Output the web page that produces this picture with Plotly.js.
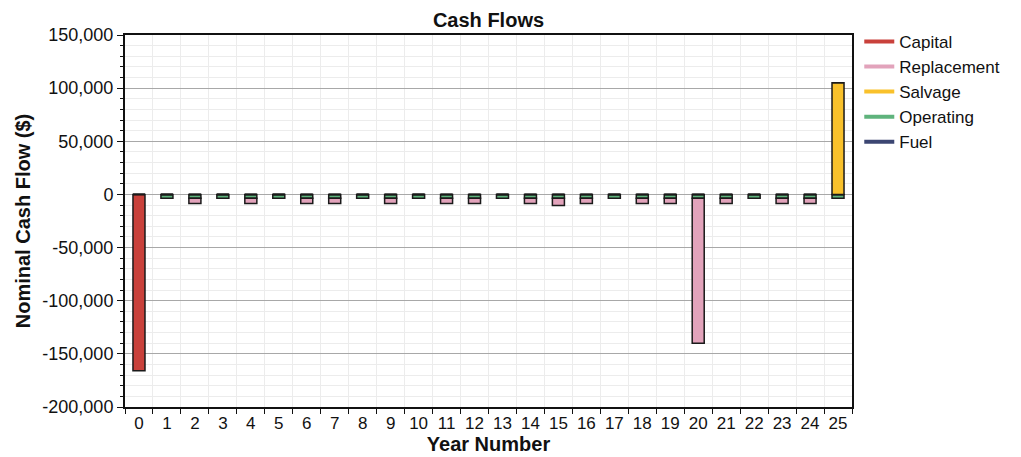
<!DOCTYPE html>
<html>
<head>
<meta charset="utf-8">
<script src="https://cdn.plot.ly/plotly-3.0.1.min.js"></script>
<style>html,body{margin:0;padding:0;background:#fff;}#chart{width:1021px;height:457px;}</style>
</head>
<body>
<div id="chart"></div>
<script>
const years = ['0','1','2','3','4','5','6','7','8','9','10','11','12','13','14','15','16','17','18','19','20','21','22','23','24','25'];
const capital =     [-166000,0,0,0,0,0,0,0,0,0,0,0,0,0,0,0,0,0,0,0,0,0,0,0,0,0];
const replacement = [0,0,-5000,0,-5000,0,-5000,-5000,0,-5000,0,-5000,-5000,0,-5000,-7000,-5000,0,-5000,-5000,-136500,-5000,0,-5000,-5000,0];
const salvage =     [0,0,0,0,0,0,0,0,0,0,0,0,0,0,0,0,0,0,0,0,0,0,0,0,0,105000];
const operating =   [0,-3500,-3500,-3500,-3500,-3500,-3500,-3500,-3500,-3500,-3500,-3500,-3500,-3500,-3500,-3500,-3500,-3500,-3500,-3500,-3500,-3500,-3500,-3500,-3500,-3500];
const fuel =        [0,0,0,0,0,0,0,0,0,0,0,0,0,0,0,0,0,0,0,0,0,0,0,0,0,0];
const seriesNames = ['Capital','Replacement','Salvage','Operating','Fuel'];
const seriesColors = ['#c9413b','#e2a3bb','#f9c12b','#5fb37c','#3c4672'];
const yTickVals = [150000,100000,50000,0,-50000,-100000,-150000,-200000];
const yTickText = ['150,000','100,000','50,000','0','-50,000','-100,000','-150,000','-200,000'];

const font = 'Liberation Sans, Arial, sans-serif';
const dataBySeries = {Capital: capital, Replacement: replacement, Salvage: salvage, Operating: operating, Fuel: fuel};
const stackOrder = ['Operating','Replacement','Capital','Salvage','Fuel'];
const traces = [];
stackOrder.forEach(name => {
  const c = seriesColors[seriesNames.indexOf(name)];
  traces.push({type:'bar', x: years, y: dataBySeries[name], name: name, showlegend:false,
    marker:{color:c, line:{color:'#1a1a1a', width:1.5}}, hoverinfo:'x+y+name'});
});
seriesNames.forEach((name,i) => {
  traces.push({type:'scatter', mode:'lines', x:[null], y:[null], name:name,
    line:{color:seriesColors[i], width:4}, showlegend:true});
});

const layout = {
  width:1021, height:457,
  margin:{l:125, r:169, t:35, b:50, pad:0},
  paper_bgcolor:'#fff', plot_bgcolor:'#fff',
  barmode:'relative', bargap:0.57,
  title:{text:'<b>Cash Flows</b>', font:{family:font, size:20, color:'#111'}, x:0.5, xref:'paper', y:0.972, yanchor:'top'},
  xaxis:{type:'category', tickson:'boundaries', showgrid:true, gridcolor:'#ececec', gridwidth:1,
    ticks:'outside', ticklen:5, tickcolor:'#111', showline:true, linecolor:'#111', linewidth:2, mirror:true,
    tickangle:0, automargin:false,
    tickfont:{family:font, size:17, color:'#111'},
    title:{text:'<b>Year Number</b>', font:{family:font, size:20, color:'#111'}, standoff:0}},
  yaxis:{range:[-200000,150000], tickmode:'array', tickvals:yTickVals, ticktext:yTickText,
    showgrid:true, gridcolor:'#a8a8a8', gridwidth:1, zeroline:true, zerolinecolor:'#a8a8a8', zerolinewidth:1.5,
    ticks:'outside', ticklen:6, tickcolor:'#111', showline:true, linecolor:'#111', linewidth:2, mirror:true,
    tickfont:{family:font, size:18, color:'#111'},
    minor:{tickmode:'linear', tick0:0, dtick:10000, showgrid:true, gridcolor:'#ececec', ticks:'outside', ticklen:3, tickcolor:'#111'},
    title:{text:'<b>Nominal Cash Flow ($)</b>', font:{family:font, size:20, color:'#111'}, standoff:6}},
  legend:{x:1.01, xanchor:'left', y:1.03, yanchor:'top', font:{family:font, size:17, color:'#111'},
    tracegroupgap:0, itemwidth:30, bgcolor:'rgba(0,0,0,0)'},
  showlegend:true
};
Plotly.newPlot('chart', traces, layout, {displayModeBar:false, staticPlot:true});
</script>
</body>
</html>
